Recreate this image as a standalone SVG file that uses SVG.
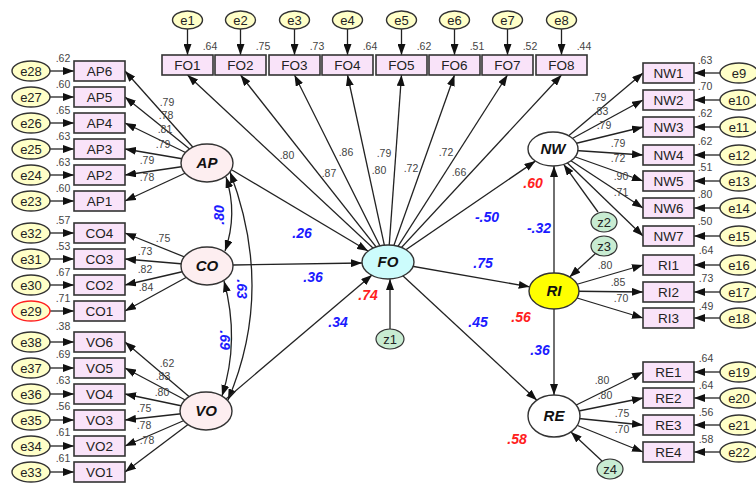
<svg xmlns="http://www.w3.org/2000/svg" width="756" height="483" viewBox="0 0 756 483">
<style>
text{font-family:"Liberation Sans",Arial,sans-serif;text-anchor:middle}
.box{fill:#f9e3f9;stroke:#333;stroke-width:1.6}
.err{fill:#ffffc8;stroke:#333;stroke-width:1.4}
.dist{fill:#c8ecd2;stroke:#333;stroke-width:1.2}
.lat{fill:#fdeef0;stroke:#333;stroke-width:1.4}
.latw{fill:#fff;stroke:#333;stroke-width:1.4}
.t{font-size:13.5px;fill:#222}
.te{font-size:13px;fill:#222}
.v{font-size:10.5px;fill:#444}
.ln{font-size:15px;font-weight:bold;font-style:italic;fill:#111}
.s{font-size:14px;font-weight:bold;font-style:italic;fill:#1a1aff}
.r{font-size:14px;font-weight:bold;font-style:italic;fill:#ff2020}
.c line,.c path{stroke:#222;stroke-width:1.3;fill:none;marker-end:url(#ah)}
.c path.dbl{marker-start:url(#ah2)}
</style>
<defs>
<marker id="ah" markerUnits="userSpaceOnUse" markerWidth="11" markerHeight="8" refX="11" refY="4" orient="auto"><path d="M0,0 L11,4 L0,8 z" fill="#111"/></marker>
<marker id="ah2" markerUnits="userSpaceOnUse" markerWidth="11" markerHeight="8" refX="11" refY="4" orient="auto-start-reverse"><path d="M0,0 L11,4 L0,8 z" fill="#111"/></marker>
</defs>
<g id="connectors" class="c">
<!-- top errors -->
<line x1="187.5" y1="29" x2="187.5" y2="55"/><line x1="240.5" y1="29" x2="240.5" y2="55"/><line x1="294.5" y1="29" x2="294.5" y2="55"/><line x1="347.5" y1="29" x2="347.5" y2="55"/><line x1="401.5" y1="29" x2="401.5" y2="55"/><line x1="454.5" y1="29" x2="454.5" y2="55"/><line x1="507.5" y1="29" x2="507.5" y2="55"/><line x1="561.5" y1="29" x2="561.5" y2="55"/>
<!-- FO loadings -->
<line x1="388" y1="262" x2="187.5" y2="75"/><line x1="388" y1="262" x2="240.5" y2="75"/><line x1="388" y1="262" x2="294.5" y2="75"/><line x1="388" y1="262" x2="347.5" y2="75"/><line x1="388" y1="262" x2="401.5" y2="75"/><line x1="388" y1="262" x2="454.5" y2="75"/><line x1="388" y1="262" x2="507.5" y2="75"/><line x1="388" y1="262" x2="561.5" y2="75"/>
<!-- left errors -->
<line x1="50" y1="71" x2="74" y2="71"/><line x1="50" y1="97" x2="74" y2="97"/><line x1="50" y1="123" x2="74" y2="123"/><line x1="50" y1="149" x2="74" y2="149"/><line x1="50" y1="175" x2="74" y2="175"/><line x1="50" y1="201" x2="74" y2="201"/>
<line x1="50" y1="233" x2="74" y2="233"/><line x1="50" y1="259" x2="74" y2="259"/><line x1="50" y1="285" x2="74" y2="285"/><line x1="50" y1="311" x2="74" y2="311"/>
<line x1="50" y1="342" x2="74" y2="342"/><line x1="50" y1="368" x2="74" y2="368"/><line x1="50" y1="394" x2="74" y2="394"/><line x1="50" y1="420" x2="74" y2="420"/><line x1="50" y1="446" x2="74" y2="446"/><line x1="50" y1="472" x2="74" y2="472"/>
<!-- AP loadings -->
<line x1="207" y1="163" x2="125" y2="71"/><line x1="207" y1="163" x2="125" y2="97"/><line x1="207" y1="163" x2="125" y2="123"/><line x1="207" y1="163" x2="125" y2="149"/><line x1="207" y1="163" x2="125" y2="175"/><line x1="207" y1="163" x2="125" y2="201"/>
<!-- CO loadings -->
<line x1="207" y1="266" x2="125" y2="233"/><line x1="207" y1="266" x2="125" y2="259"/><line x1="207" y1="266" x2="125" y2="285"/><line x1="207" y1="266" x2="125" y2="311"/>
<!-- VO loadings -->
<line x1="206" y1="411" x2="125" y2="342"/><line x1="206" y1="411" x2="125" y2="368"/><line x1="206" y1="411" x2="125" y2="394"/><line x1="206" y1="411" x2="125" y2="420"/><line x1="206" y1="411" x2="125" y2="446"/><line x1="206" y1="411" x2="125" y2="472"/>
<!-- covariances -->
<path class="dbl" d="M226,177 Q238,214 225,251"/>
<path class="dbl" d="M224,281 Q240,340 222,396"/>
<path class="dbl" d="M230,172 Q275,290 228,400"/>
<!-- structural -->
<line x1="232" y1="170" x2="368" y2="251"/>
<line x1="233" y1="265" x2="362" y2="263"/>
<line x1="226" y1="399" x2="372" y2="275"/>
<line x1="390" y1="329" x2="390" y2="279"/>
<line x1="388" y1="262" x2="535.4" y2="161.1"/>
<line x1="388" y1="262" x2="529.7" y2="286.8"/>
<line x1="388" y1="262" x2="536.9" y2="400.2"/>
<line x1="554" y1="291" x2="554" y2="166"/>
<line x1="554" y1="291" x2="554" y2="395"/>
<line x1="598" y1="212" x2="563.7" y2="164.4"/>
<line x1="596" y1="253" x2="569.6" y2="276.9"/>
<line x1="602" y1="461" x2="570.9" y2="432"/>
<!-- NW loadings -->
<line x1="553" y1="149" x2="643" y2="73"/><line x1="553" y1="149" x2="643" y2="100"/><line x1="553" y1="149" x2="643" y2="127"/><line x1="553" y1="149" x2="643" y2="155"/><line x1="553" y1="149" x2="643" y2="181"/><line x1="553" y1="149" x2="643" y2="208"/><line x1="553" y1="149" x2="643" y2="236"/>
<!-- RI loadings -->
<line x1="554" y1="291" x2="643" y2="265"/><line x1="554" y1="291" x2="643" y2="292"/><line x1="554" y1="291" x2="643" y2="318"/>
<!-- RE loadings -->
<line x1="554" y1="416" x2="643" y2="372"/><line x1="554" y1="416" x2="643" y2="398"/><line x1="554" y1="416" x2="643" y2="425"/><line x1="554" y1="416" x2="643" y2="452"/>
<!-- right errors -->
<line x1="720" y1="73" x2="694" y2="73"/><line x1="720" y1="100" x2="694" y2="100"/><line x1="720" y1="127" x2="694" y2="127"/><line x1="720" y1="155" x2="694" y2="155"/><line x1="720" y1="181" x2="694" y2="181"/><line x1="720" y1="208" x2="694" y2="208"/><line x1="720" y1="236" x2="694" y2="236"/>
<line x1="720" y1="265" x2="694" y2="265"/><line x1="720" y1="292" x2="694" y2="292"/><line x1="720" y1="318" x2="694" y2="318"/>
<line x1="720" y1="372" x2="694" y2="372"/><line x1="720" y1="398" x2="694" y2="398"/><line x1="720" y1="425" x2="694" y2="425"/><line x1="720" y1="452" x2="694" y2="452"/>
</g>
<g id="connector-labels">
<text class="v" x="287" y="159">.80</text><text class="v" x="329" y="177">.87</text><text class="v" x="346" y="156">.86</text><text class="v" x="384" y="157">.79</text><text class="v" x="379" y="174">.80</text><text class="v" x="411" y="172">.72</text><text class="v" x="446" y="156">.72</text><text class="v" x="459" y="176">.66</text>
<text class="v" x="167" y="106">.79</text><text class="v" x="166" y="119">.78</text><text class="v" x="165" y="133">.81</text><text class="v" x="163" y="148">.79</text><text class="v" x="147" y="164">.79</text><text class="v" x="147" y="181">.78</text>
<text class="v" x="163" y="242">.75</text><text class="v" x="145" y="255">.73</text><text class="v" x="145" y="273">.82</text><text class="v" x="146" y="291">.84</text>
<text class="v" x="167" y="367">.62</text><text class="v" x="163" y="380">.83</text><text class="v" x="162" y="396">.80</text><text class="v" x="144" y="412">.75</text><text class="v" x="144" y="429">.78</text><text class="v" x="147" y="444">.78</text>
<text class="v" x="599" y="101">.79</text><text class="v" x="601" y="115">.83</text><text class="v" x="604" y="129">.79</text><text class="v" x="618" y="147">.79</text><text class="v" x="618" y="162">.72</text><text class="v" x="621" y="180">.90</text><text class="v" x="621" y="196">.71</text>
<text class="v" x="605" y="269">.80</text><text class="v" x="618" y="286">.85</text><text class="v" x="621" y="302">.70</text>
<text class="v" x="602" y="384">.80</text><text class="v" x="605" y="399">.80</text><text class="v" x="622" y="417">.75</text><text class="v" x="622" y="433">.70</text>
<text class="s" x="219" y="215" transform="rotate(-90 219 215)" dy="5">.80</text>
<text class="s" x="242" y="289" transform="rotate(90 242 289)" dy="5">.63</text>
<text class="s" x="225" y="340" transform="rotate(90 225 340)" dy="5">.69</text>
<text class="s" x="302" y="238">.26</text><text class="s" x="313" y="282">.36</text><text class="s" x="338" y="327">.34</text>
<text class="s" x="483" y="268">.75</text><text class="s" x="487" y="222">-.50</text><text class="s" x="478" y="327">.45</text>
<text class="s" x="539" y="233">-.32</text><text class="s" x="540" y="355">.36</text>
</g>
<g id="values">
<text class="v" x="210" y="50">.64</text><text class="v" x="263" y="50">.75</text><text class="v" x="317" y="50">.73</text><text class="v" x="370" y="50">.64</text><text class="v" x="424" y="50">.62</text><text class="v" x="477" y="50">.51</text><text class="v" x="530" y="50">.52</text><text class="v" x="584" y="50">.44</text>
<text class="v" x="63" y="62">.62</text><text class="v" x="63" y="88">.60</text><text class="v" x="63" y="114">.65</text><text class="v" x="63" y="140">.63</text><text class="v" x="63" y="166">.63</text><text class="v" x="63" y="192">.60</text>
<text class="v" x="63" y="224">.57</text><text class="v" x="63" y="250">.53</text><text class="v" x="63" y="276">.67</text><text class="v" x="63" y="302">.71</text>
<text class="v" x="63" y="330">.38</text><text class="v" x="63" y="358">.69</text><text class="v" x="63" y="384">.63</text><text class="v" x="63" y="410">.56</text><text class="v" x="63" y="436">.61</text><text class="v" x="63" y="462">.61</text>
<text class="v" x="705" y="64">.63</text><text class="v" x="705" y="90">.70</text><text class="v" x="705" y="117">.62</text><text class="v" x="705" y="145">.62</text><text class="v" x="705" y="171">.51</text><text class="v" x="705" y="198">.80</text><text class="v" x="705" y="225">.50</text>
<text class="v" x="706" y="254">.64</text><text class="v" x="706" y="282">.73</text><text class="v" x="706" y="310">.49</text>
<text class="v" x="706" y="362">.64</text><text class="v" x="706" y="389">.64</text><text class="v" x="706" y="416">.56</text><text class="v" x="706" y="443">.58</text>
<text class="r" x="368" y="300">.74</text><text class="r" x="533" y="188">.60</text><text class="r" x="521" y="322">.56</text><text class="r" x="517" y="444">.58</text>
</g>
<!-- top indicators -->
<g id="FO1"><rect class="box" x="162" y="55" width="51" height="20"/><text class="t" x="187.5" y="70">FO1</text></g>
<g id="FO2"><rect class="box" x="215" y="55" width="51" height="20"/><text class="t" x="240.5" y="70">FO2</text></g>
<g id="FO3"><rect class="box" x="269" y="55" width="51" height="20"/><text class="t" x="294.5" y="70">FO3</text></g>
<g id="FO4"><rect class="box" x="322" y="55" width="51" height="20"/><text class="t" x="347.5" y="70">FO4</text></g>
<g id="FO5"><rect class="box" x="376" y="55" width="51" height="20"/><text class="t" x="401.5" y="70">FO5</text></g>
<g id="FO6"><rect class="box" x="429" y="55" width="51" height="20"/><text class="t" x="454.5" y="70">FO6</text></g>
<g id="FO7"><rect class="box" x="482" y="55" width="51" height="20"/><text class="t" x="507.5" y="70">FO7</text></g>
<g id="FO8"><rect class="box" x="536" y="55" width="51" height="20"/><text class="t" x="561.5" y="70">FO8</text></g>
<g id="e1"><ellipse class="err" cx="187.5" cy="20" rx="15" ry="9"/><text class="te" x="187.5" y="25">e1</text></g>
<g id="e2"><ellipse class="err" cx="240.5" cy="20" rx="15" ry="9"/><text class="te" x="240.5" y="25">e2</text></g>
<g id="e3"><ellipse class="err" cx="294.5" cy="20" rx="15" ry="9"/><text class="te" x="294.5" y="25">e3</text></g>
<g id="e4"><ellipse class="err" cx="347.5" cy="20" rx="15" ry="9"/><text class="te" x="347.5" y="25">e4</text></g>
<g id="e5"><ellipse class="err" cx="401.5" cy="20" rx="15" ry="9"/><text class="te" x="401.5" y="25">e5</text></g>
<g id="e6"><ellipse class="err" cx="454.5" cy="20" rx="15" ry="9"/><text class="te" x="454.5" y="25">e6</text></g>
<g id="e7"><ellipse class="err" cx="507.5" cy="20" rx="15" ry="9"/><text class="te" x="507.5" y="25">e7</text></g>
<g id="e8"><ellipse class="err" cx="561.5" cy="20" rx="15" ry="9"/><text class="te" x="561.5" y="25">e8</text></g>
<!-- left indicators -->
<g id="AP6"><rect class="box" x="74" y="61" width="51" height="20"/><text class="t" x="99.5" y="76">AP6</text></g>
<g id="AP5"><rect class="box" x="74" y="87" width="51" height="20"/><text class="t" x="99.5" y="102">AP5</text></g>
<g id="AP4"><rect class="box" x="74" y="113" width="51" height="20"/><text class="t" x="99.5" y="128">AP4</text></g>
<g id="AP3"><rect class="box" x="74" y="139" width="51" height="20"/><text class="t" x="99.5" y="154">AP3</text></g>
<g id="AP2"><rect class="box" x="74" y="165" width="51" height="20"/><text class="t" x="99.5" y="180">AP2</text></g>
<g id="AP1"><rect class="box" x="74" y="191" width="51" height="20"/><text class="t" x="99.5" y="206">AP1</text></g>
<g id="CO4"><rect class="box" x="74" y="223" width="51" height="20"/><text class="t" x="99.5" y="238">CO4</text></g>
<g id="CO3"><rect class="box" x="74" y="249" width="51" height="20"/><text class="t" x="99.5" y="264">CO3</text></g>
<g id="CO2"><rect class="box" x="74" y="275" width="51" height="20"/><text class="t" x="99.5" y="290">CO2</text></g>
<g id="CO1"><rect class="box" x="74" y="301" width="51" height="20"/><text class="t" x="99.5" y="316">CO1</text></g>
<g id="VO6"><rect class="box" x="74" y="332" width="51" height="20"/><text class="t" x="99.5" y="347">VO6</text></g>
<g id="VO5"><rect class="box" x="74" y="358" width="51" height="20"/><text class="t" x="99.5" y="373">VO5</text></g>
<g id="VO4"><rect class="box" x="74" y="384" width="51" height="20"/><text class="t" x="99.5" y="399">VO4</text></g>
<g id="VO3"><rect class="box" x="74" y="410" width="51" height="20"/><text class="t" x="99.5" y="425">VO3</text></g>
<g id="VO2"><rect class="box" x="74" y="436" width="51" height="20"/><text class="t" x="99.5" y="451">VO2</text></g>
<g id="VO1"><rect class="box" x="74" y="462" width="51" height="20"/><text class="t" x="99.5" y="477">VO1</text></g>
<g id="e28"><ellipse class="err" cx="31" cy="71" rx="19" ry="10"/><text class="te" x="31" y="76">e28</text></g>
<g id="e27"><ellipse class="err" cx="31" cy="97" rx="19" ry="10"/><text class="te" x="31" y="102">e27</text></g>
<g id="e26"><ellipse class="err" cx="31" cy="123" rx="19" ry="10"/><text class="te" x="31" y="128">e26</text></g>
<g id="e25"><ellipse class="err" cx="31" cy="149" rx="19" ry="10"/><text class="te" x="31" y="154">e25</text></g>
<g id="e24"><ellipse class="err" cx="31" cy="175" rx="19" ry="10"/><text class="te" x="31" y="180">e24</text></g>
<g id="e23"><ellipse class="err" cx="31" cy="201" rx="19" ry="10"/><text class="te" x="31" y="206">e23</text></g>
<g id="e32"><ellipse class="err" cx="31" cy="233" rx="19" ry="10"/><text class="te" x="31" y="238">e32</text></g>
<g id="e31"><ellipse class="err" cx="31" cy="259" rx="19" ry="10"/><text class="te" x="31" y="264">e31</text></g>
<g id="e30"><ellipse class="err" cx="31" cy="285" rx="19" ry="10"/><text class="te" x="31" y="290">e30</text></g>
<g id="e29"><ellipse class="err" cx="31" cy="311" rx="19" ry="10" style="stroke:#ff2020"/><text class="te" x="31" y="316">e29</text></g>
<g id="e38"><ellipse class="err" cx="31" cy="342" rx="19" ry="10"/><text class="te" x="31" y="347">e38</text></g>
<g id="e37"><ellipse class="err" cx="31" cy="368" rx="19" ry="10"/><text class="te" x="31" y="373">e37</text></g>
<g id="e36"><ellipse class="err" cx="31" cy="394" rx="19" ry="10"/><text class="te" x="31" y="399">e36</text></g>
<g id="e35"><ellipse class="err" cx="31" cy="420" rx="19" ry="10"/><text class="te" x="31" y="425">e35</text></g>
<g id="e34"><ellipse class="err" cx="31" cy="446" rx="19" ry="10"/><text class="te" x="31" y="451">e34</text></g>
<g id="e33"><ellipse class="err" cx="31" cy="472" rx="19" ry="10"/><text class="te" x="31" y="477">e33</text></g>
<!-- right indicators -->
<g id="NW1"><rect class="box" x="643" y="63" width="51" height="20"/><text class="t" x="668.5" y="78">NW1</text></g>
<g id="NW2"><rect class="box" x="643" y="90" width="51" height="20"/><text class="t" x="668.5" y="105">NW2</text></g>
<g id="NW3"><rect class="box" x="643" y="117" width="51" height="20"/><text class="t" x="668.5" y="132">NW3</text></g>
<g id="NW4"><rect class="box" x="643" y="145" width="51" height="20"/><text class="t" x="668.5" y="160">NW4</text></g>
<g id="NW5"><rect class="box" x="643" y="171" width="51" height="20"/><text class="t" x="668.5" y="186">NW5</text></g>
<g id="NW6"><rect class="box" x="643" y="198" width="51" height="20"/><text class="t" x="668.5" y="213">NW6</text></g>
<g id="NW7"><rect class="box" x="643" y="226" width="51" height="20"/><text class="t" x="668.5" y="241">NW7</text></g>
<g id="RI1"><rect class="box" x="643" y="255" width="51" height="20"/><text class="t" x="668.5" y="270">RI1</text></g>
<g id="RI2"><rect class="box" x="643" y="282" width="51" height="20"/><text class="t" x="668.5" y="297">RI2</text></g>
<g id="RI3"><rect class="box" x="643" y="308" width="51" height="20"/><text class="t" x="668.5" y="323">RI3</text></g>
<g id="RE1"><rect class="box" x="643" y="362" width="51" height="20"/><text class="t" x="668.5" y="377">RE1</text></g>
<g id="RE2"><rect class="box" x="643" y="388" width="51" height="20"/><text class="t" x="668.5" y="403">RE2</text></g>
<g id="RE3"><rect class="box" x="643" y="415" width="51" height="20"/><text class="t" x="668.5" y="430">RE3</text></g>
<g id="RE4"><rect class="box" x="643" y="442" width="51" height="20"/><text class="t" x="668.5" y="457">RE4</text></g>
<g id="e9"><ellipse class="err" cx="739" cy="73" rx="19" ry="10"/><text class="te" x="739" y="78">e9</text></g>
<g id="e10"><ellipse class="err" cx="739" cy="100" rx="19" ry="10"/><text class="te" x="739" y="105">e10</text></g>
<g id="e11"><ellipse class="err" cx="739" cy="127" rx="19" ry="10"/><text class="te" x="739" y="132">e11</text></g>
<g id="e12"><ellipse class="err" cx="739" cy="155" rx="19" ry="10"/><text class="te" x="739" y="160">e12</text></g>
<g id="e13"><ellipse class="err" cx="739" cy="181" rx="19" ry="10"/><text class="te" x="739" y="186">e13</text></g>
<g id="e14"><ellipse class="err" cx="739" cy="208" rx="19" ry="10"/><text class="te" x="739" y="213">e14</text></g>
<g id="e15"><ellipse class="err" cx="739" cy="236" rx="19" ry="10"/><text class="te" x="739" y="241">e15</text></g>
<g id="e16"><ellipse class="err" cx="739" cy="265" rx="19" ry="10"/><text class="te" x="739" y="270">e16</text></g>
<g id="e17"><ellipse class="err" cx="739" cy="292" rx="19" ry="10"/><text class="te" x="739" y="297">e17</text></g>
<g id="e18"><ellipse class="err" cx="739" cy="318" rx="19" ry="10"/><text class="te" x="739" y="323">e18</text></g>
<g id="e19"><ellipse class="err" cx="739" cy="372" rx="19" ry="10"/><text class="te" x="739" y="377">e19</text></g>
<g id="e20"><ellipse class="err" cx="739" cy="398" rx="19" ry="10"/><text class="te" x="739" y="403">e20</text></g>
<g id="e21"><ellipse class="err" cx="739" cy="425" rx="19" ry="10"/><text class="te" x="739" y="430">e21</text></g>
<g id="e22"><ellipse class="err" cx="739" cy="452" rx="19" ry="10"/><text class="te" x="739" y="457">e22</text></g>
<!-- latents -->
<g id="AP"><ellipse class="lat" cx="207" cy="163" rx="26" ry="19"/><text class="ln" x="207" y="168">AP</text></g>
<g id="CO"><ellipse class="lat" cx="207" cy="266" rx="26" ry="19"/><text class="ln" x="207" y="271">CO</text></g>
<g id="VO"><ellipse class="lat" cx="206" cy="411" rx="26" ry="19"/><text class="ln" x="206" y="416">VO</text></g>
<g id="FO"><ellipse cx="388" cy="262" rx="26" ry="17" fill="#ccfcfc" stroke="#333" stroke-width="1.4"/><text class="ln" x="388" y="267">FO</text></g>
<g id="NW"><ellipse class="latw" cx="553" cy="149" rx="25" ry="17"/><text class="ln" x="553" y="154">NW</text></g>
<g id="RI"><ellipse cx="554" cy="291" rx="25" ry="18" fill="#ffff00" stroke="#333" stroke-width="1.4"/><text class="ln" x="554" y="296">RI</text></g>
<g id="RE"><ellipse class="latw" cx="554" cy="416" rx="26" ry="21"/><text class="ln" x="554" y="421">RE</text></g>
<g id="z1"><ellipse class="dist" cx="390" cy="339" rx="14" ry="10"/><text class="te" x="390" y="344">z1</text></g>
<g id="z2"><ellipse class="dist" cx="604" cy="222" rx="13" ry="10"/><text class="te" x="604" y="227">z2</text></g>
<g id="z3"><ellipse class="dist" cx="604" cy="246" rx="13" ry="10"/><text class="te" x="604" y="251">z3</text></g>
<g id="z4"><ellipse class="dist" cx="610" cy="469" rx="13" ry="10"/><text class="te" x="610" y="474">z4</text></g>
</svg>
